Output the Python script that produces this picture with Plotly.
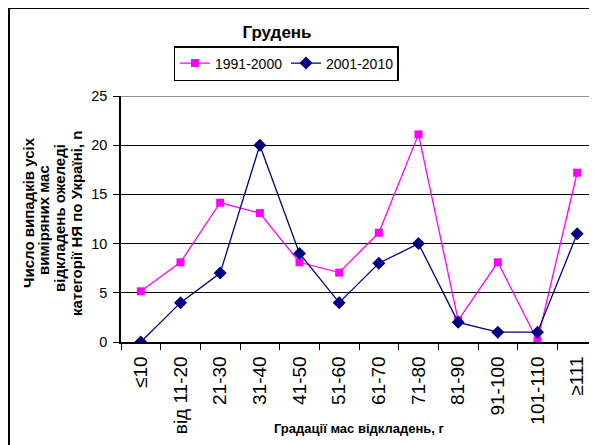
import plotly.graph_objects as go

categories = ["≤10", "від 11-20", "21-30", "31-40", "41-50", "51-60",
              "61-70", "71-80", "81-90", "91-100", "101-110", "≥111"]
series_1991_2000 = [5.15, 8.1, 14.15, 13.1, 8.1, 7.05, 11.1, 21.1, 2.2, 8.1, 0.15, 17.2]
series_2001_2010 = [0, 4, 7, 20, 9, 4, 8, 10, 2, 1, 1, 11]
y_ticks = [0, 5, 10, 15, 20, 25]
y_title_lines = ["Число випадків усіх", "виміряних мас",
                 "відкладень ожеледі", "категорії НЯ по Україні, n"]

# page has an 8px body margin; figure is sized to fill the window exactly
OFF = 8
W, H = 597 - OFF, 445 - OFF
AX_L, AX_R, AX_T, AX_B = 121, 597, 96, 342   # plot area in window pixels
L = AX_L - OFF
R = W - (AX_R - OFF)
T = AX_T - OFF
B = H - (AX_B - OFF)
pw = AX_R - AX_L
ph = AX_B - AX_T


def px(x):
    return (x - AX_L) / pw


def py(y):
    return (AX_B - y) / ph


FONT = "Arial, Liberation Sans, sans-serif"

fig = go.Figure()
fig.add_trace(go.Scatter(
    x=categories, y=series_1991_2000, name="1991-2000", mode="lines+markers",
    line=dict(color="#FF00FF", width=1.3),
    marker=dict(symbol="square", size=8, color="#FF00FF"),
))
fig.add_trace(go.Scatter(
    x=categories, y=series_2001_2010, name="2001-2010", mode="lines+markers",
    line=dict(color="#000080", width=1.3),
    marker=dict(symbol="diamond", size=10, color="#000080"),
))

fig.update_layout(
    width=W, height=H,
    margin=dict(l=L, r=R, t=T, b=B, autoexpand=False),
    paper_bgcolor="white", plot_bgcolor="white",
    font=dict(family=FONT, color="black", size=14),
    title=dict(text="<b>Грудень</b>", x=(277 - OFF) / W, xanchor="center",
               y=1 - (32 - OFF) / H, yanchor="middle", yref="container",
               font=dict(size=17, family=FONT, color="black")),
    legend=dict(orientation="h", x=px(286), xanchor="center", y=py(46), yanchor="top",
                bordercolor="black", borderwidth=1.5, bgcolor="white",
                font=dict(size=14, family=FONT), itemwidth=30,
                entrywidth=66, tracegroupgap=0),
    showlegend=True,
)

fig.update_xaxes(
    type="category", range=[-0.5, 11.5],
    showline=True, linecolor="black", linewidth=1.5,
    ticks="outside", ticklen=6, tickcolor="black", tickwidth=1,
    tickson="boundaries", tickangle=-90, ticklabelstandoff=5,
    tickfont=dict(size=19, family=FONT), showgrid=False, zeroline=False,
)
fig.update_yaxes(
    range=[0, 25], tickvals=y_ticks,
    showline=True, linecolor="black", linewidth=1.5,
    ticks="outside", ticklen=6, tickcolor="black", tickwidth=1,
    ticklabelstandoff=3,
    tickfont=dict(size=14.5, family=FONT),
    showgrid=True, gridcolor="black", gridwidth=1, zeroline=False,
)

fig.add_shape(type="line", xref="paper", yref="y", x0=0, x1=1, y0=25, y1=25,
              line=dict(color="#909090", width=2))

line_x = [28, 43, 59, 76]
line_y = [213, 220, 218, 224]
for txt, lx, ly in zip(y_title_lines, line_x, line_y):
    fig.add_annotation(
        text="<b>" + txt + "</b>",
        xref="paper", yref="paper", x=px(lx), y=py(ly), xanchor="center", yanchor="middle",
        textangle=-90, showarrow=False, font=dict(size=15, family=FONT, color="black"),
    )

fig.add_annotation(
    text="<b>Градації мас відкладень, г</b>",
    xref="paper", yref="paper", x=px(359), y=py(429), xanchor="center", yanchor="middle",
    showarrow=False, font=dict(size=13, family=FONT, color="black"),
)

fig.add_shape(type="rect", xref="paper", yref="paper",
              x0=px(9), x1=px(620), y0=py(470), y1=py(8),
              line=dict(color="black", width=2), fillcolor="rgba(0,0,0,0)")

fig.write_html("out.html")
